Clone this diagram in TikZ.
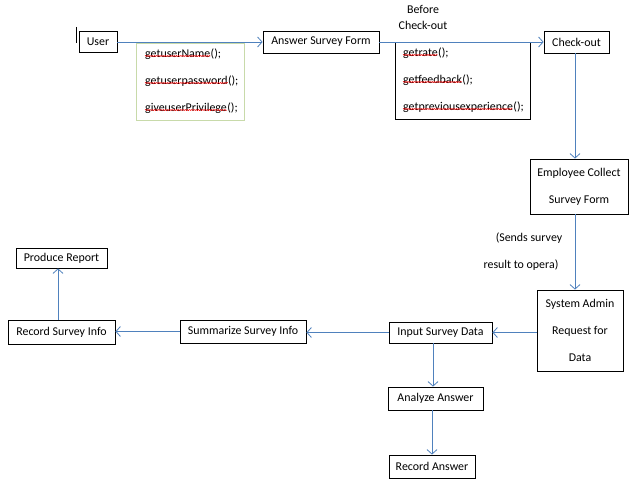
\documentclass[tikz,border=0pt]{standalone}
\usepackage{fontspec}
\setmainfont{Carlito}
\usetikzlibrary{arrows.meta,decorations.pathmorphing}
\definecolor{arrowblue}{RGB}{79,129,189}
\definecolor{codegreen}{RGB}{200,218,170}
\begin{document}
\begin{tikzpicture}[x=1pt,y=-1pt,
  font=\fontsize{11.9}{27}\selectfont,
  box/.style={draw, line width=0.8pt, inner sep=0pt, align=center},
  flow/.style={draw=arrowblue, line width=0.8pt,
    -{Straight Barb[length=4.5pt,width=10pt,line width=0.8pt]}},
  codeword/.style={anchor=base west, inner sep=0pt},
  squiggle/.style={draw=red, line width=0.45pt,
    decorate, decoration={snake, segment length=2.2pt, amplitude=0.6pt}},
  plain/.style={inner sep=0pt}]
\useasboundingbox[fill=white] (0,0) rectangle (643,502);

% process boxes
\node[box, minimum width=38, minimum height=21] (user) at (98,42) {User};
\node[box, minimum width=116, minimum height=22] (answer) at (321,42) {Answer Survey Form};
\node[box, minimum width=65, minimum height=22] (checkout) at (576.5,42) {Check-out};
\node[box, minimum width=98, minimum height=55] (employee) at (579,186.5)
  {Employee Collect\\Survey Form};
\node[box, minimum width=86, minimum height=81] (admin) at (580,330.5)
  {System Admin\\Request for\\Data};
\node[box, minimum width=103, minimum height=21] (input) at (440.5,332.5) {Input Survey Data};
\node[box, minimum width=126, minimum height=23] (summ) at (243,331.5) {Summarize Survey Info};
\node[box, minimum width=107, minimum height=24] (recinfo) at (61.5,332) {Record Survey Info};
\node[box, minimum width=91, minimum height=20] (report) at (61.5,258) {Produce Report};
\node[box, minimum width=95, minimum height=23] (analyze) at (435.5,398.5) {Analyze Answer};
\node[box, minimum width=86, minimum height=23] (recans) at (432,466.5) {Record Answer};

% method boxes
\node[draw=codegreen, line width=0.8pt, minimum width=108, minimum height=77, inner sep=0pt]
  (codeA) at (190,81.5) {};
\node[draw, line width=0.8pt, minimum width=135, minimum height=77, inner sep=0pt]
  (codeB) at (462.5,80.5) {};

\node[codeword] (a1) at (145,58) {getuserName};
\node[codeword] at (a1.base east) {();};
\node[codeword] (a2) at (145,85) {getuserpassword};
\node[codeword] at (a2.base east) {();};
\node[codeword] (a3) at (145,112) {giveuserPrivilege};
\node[codeword] at (a3.base east) {();};
\node[codeword] (b1) at (403,57) {getrate};
\node[codeword] at (b1.base east) {();};
\node[codeword] (b2) at (403,84) {getfeedback};
\node[codeword] at (b2.base east) {();};
\node[codeword] (b3) at (403,111) {getpreviousexperience};
\node[codeword] at (b3.base east) {();};
\foreach \w in {a1,a2,a3,b1,b2,b3}
  \draw[squiggle] ([yshift=2]\w.base west) -- ([yshift=2]\w.base east);

% free labels
\node[plain] (before) at (423,9) {Before};
\node[plain] (beforeb) at (423,25) {Check-out};
\node[plain] (sendsa) at (529,238) {(Sends survey};
\node[plain] (sendsb) at (521,265) {result to opera)};

% text cursor
\draw[line width=0.8pt] (76,27) -- (76,43);

% connectors
\draw[flow] (user.east) -- (answer.west);
\draw[flow] (answer.east) -- (checkout.west);
\draw[flow] ([xshift=-1.5]checkout.south) -- ([xshift=-1.5]checkout.south |- employee.north);
\draw[flow] ([xshift=-4]employee.south) -- ([xshift=-4]employee.south |- admin.north);
\draw[flow] (admin.west |- input.east) -- (input.east);
\draw[flow] (input.west) -- (input.west -| summ.east);
\draw[flow] (summ.west) -- (summ.west -| recinfo.east);
\draw[flow] ([xshift=-3.5]recinfo.north) -- ([xshift=-3.5]recinfo.north |- report.south);
\draw[flow] ([xshift=-7.5]input.south) -- ([xshift=-7.5]input.south |- analyze.north);
\draw[flow] ([xshift=-3.5]analyze.south) -- ([xshift=-3.5]analyze.south |- recans.north);
\end{tikzpicture}
\end{document}
